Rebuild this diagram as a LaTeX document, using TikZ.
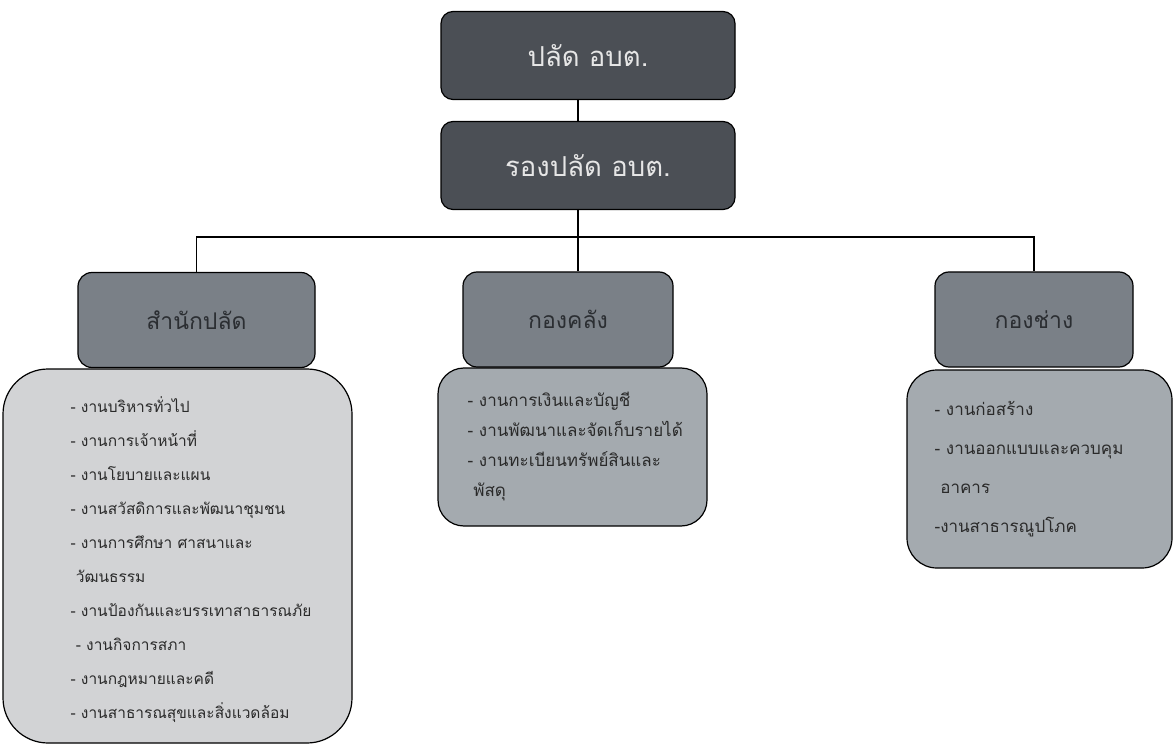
\documentclass[tikz,border=0pt]{standalone}
\usepackage{fontspec}
\newfontfamily\thai[Script=Thai]{Loma}
\definecolor{headfill}{HTML}{4B4F55}
\definecolor{headtext}{HTML}{E6E6E6}
\definecolor{unitfill}{HTML}{7A8087}
\definecolor{unittext}{HTML}{2B2E32}
\definecolor{listlight}{HTML}{D2D3D5}
\definecolor{listmid}{HTML}{A4AAAF}
\definecolor{listtext}{HTML}{2A2A2A}
\tikzset{
  headbox/.style={draw,line width=1.2pt,rounded corners=12pt,fill=headfill,text=headtext,
    font=\thai\fontsize{27.5}{30}\selectfont,minimum width=294pt,minimum height=88pt},
  unitbox/.style={draw,line width=1.2pt,rounded corners=14pt,fill=unitfill,text=unittext,
    font=\thai\fontsize{23}{28}\selectfont,minimum height=95pt},
  listbox/.style={draw,line width=1.2pt,fill=listmid},
  items/.style={align=left,inner sep=0pt,text=listtext,anchor=west},
  conn/.style={line width=1.8pt}
}
\begin{document}
\begin{tikzpicture}[x=1pt,y=-1pt]
  \useasboundingbox[fill=white] (0,0) rectangle (1173,746);
  \node [headbox] (palad)   at (588,55.5)  {ปลัด อบต.};
  \node [headbox] (ropalad) at (588,165.5) {รองปลัด อบต.};
  \node [unitbox,minimum width=237pt] (stnk)  at (196.5,320) {สำนักปลัด};
  \node [unitbox,minimum width=210pt] (klang) at (568,319.5) {กองคลัง};
  \node [unitbox,minimum width=198pt] (chang) at (1034,319.5) {กองช่าง};
  \coordinate (bus) at (578,237);
  \node [listbox,fill=listlight,rounded corners=45pt,minimum width=349pt,minimum height=374pt] (stnklist) at (177.5,556) {};
  \node [items,font=\thai\fontsize{15.5}{34}\selectfont] (stnkitems) at ([xshift=68pt,yshift=-4pt]stnklist.west)
    {- งานบริหารทั่วไป\\- งานการเจ้าหน้าที่\\- งานโยบายและแผน\\- งานสวัสดิการและพัฒนาชุมชน\\- งานการศึกษา ศาสนาและ\\\ วัฒนธรรม\\- งานป้องกันและบรรเทาสาธารณภัย\\\ - งานกิจการสภา\\- งานกฎหมายและคดี\\- งานสาธารณสุขและสิ่งแวดล้อม};
  \node [listbox,rounded corners=26pt,minimum width=269pt,minimum height=158pt] (klanglist) at (572.5,447) {};
  \node [items,font=\thai\fontsize{17}{30}\selectfont] (klangitems) at ([xshift=30pt]klanglist.west)
    {- งานการเงินและบัญชี\\- งานพัฒนาและจัดเก็บรายได้\\- งานทะเบียนทรัพย์สินและ\\\ พัสดุ};
  \node [listbox,rounded corners=30pt,minimum width=265pt,minimum height=198pt] (changlist) at (1039.5,469) {};
  \node [items,font=\thai\fontsize{17}{39}\selectfont] (changitems) at ([xshift=28pt]changlist.west)
    {- งานก่อสร้าง\\- งานออกแบบและควบคุม\\\ อาคาร\\-งานสาธารณูปโภค};
  \draw [conn] (bus |- palad.south) -- (bus |- ropalad.north);
  \draw [conn] (bus |- ropalad.south) -- (bus |- klang.north);
  \draw [conn] (stnk.north) |- (bus) -| (chang.north);
\end{tikzpicture}
\end{document}
